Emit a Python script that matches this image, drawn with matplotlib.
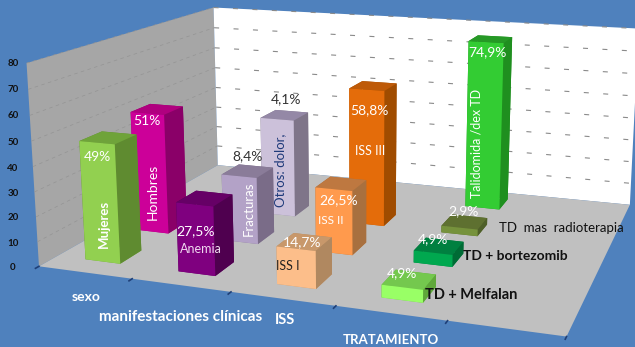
import numpy as np
import matplotlib
matplotlib.use("Agg")
import matplotlib.pyplot as plt
from mpl_toolkits.mplot3d.art3d import Poly3DCollection

W, H = 635, 347
# ---- data
groups = ["sexo", "manifestaciones clínicas", "ISS", "TRATAMIENTO"]
names = ["Mujeres", "Hombres", "Anemia", "Fracturas", "Otros: dolor,", "ISS I", "ISS II", "ISS III",
         "TD + Melfalan", "TD + bortezomib", "TD  mas  radioterapia", "Talidomida /dex TD"]
values = [48, 51, 27.5, 28, 43, 14.7, 26.5, 58.8, 4.9, 4.9, 2.9, 74.9]
labels = ["49%", "51%", "27,5%", "8,4%", "4,1%", "14,7%", "26,5%", "58,8%", "4,9%", "4,9%", "2,9%", "74,9%"]
group_idx = [0, 0, 1, 1, 1, 2, 2, 2, 3, 3, 3, 3]
row_idx = [0, 1, 0, 1, 2, 0, 1, 2, 0, 1, 2, 3]
z_ticks = [0, 10, 20, 30, 40, 50, 60, 70, 80]

front = ["#92D050", "#CC0099", "#7F007F", "#B3A2C7", "#CCC1DA", "#FCBE8A", "#FF9A4D", "#E46C0A",
         "#99FF66", "#00A84F", "#76923C", "#33CC33"]
top = ["#6FA33A", "#B0007F", "#660066", "#8A7C99", "#9488A6", "#C8986B", "#BE7840", "#BE5A08",
       "#74C84E", "#008040", "#5E7030", "#269926"]
side = ["#5F8B30", "#8A0068", "#4F004F", "#7A6C88", "#7F7589", "#B08860", "#A8703F", "#A04C00",
        "#5FA83A", "#006B35", "#4E5F28", "#1F8F1F"]

BG = "#4F81BD"
# ---- camera fitted to the frame of the chart
nx, ny, nz = 5, 4, 80
world = [(0, 0, 0), (nx, 0, 0), (0, ny, 0), (nx, ny, 0), (0, 0, nz), (0, ny, nz), (nx, ny, nz)]
image = [(39, 267), (566, 337), (218, 165), (630, 204), (27, 62), (213, 8), (639, 29)]
A = []
for (x, y, z), (u, v) in zip(world, image):
    A.append([x, y, z, 1, 0, 0, 0, 0, -u*x, -u*y, -u*z, -u])
    A.append([0, 0, 0, 0, x, y, z, 1, -v*x, -v*y, -v*z, -v])
P = np.linalg.svd(np.array(A, float))[2][-1].reshape(3, 4)
if P[2, 3] < 0:
    P = -P
s = P[2, 3]
M = np.array([P[0], P[1], P[2] - np.array([0, 0, 0, s]), P[2]])

fig = plt.figure(figsize=(W/100, H/100), dpi=100, facecolor=BG)
ax = fig.add_axes([0, 0, 1, 1], projection="3d", computed_zorder=False, facecolor=BG, proj_type="ortho")
ax.set_axis_off()
ax.apply_aspect = lambda position=None: None
ax.get_proj = lambda: M
ax.viewLim.intervalx = (0, W)
ax.viewLim.intervaly = (H, 0)

def add_poly(v, color, z):
    p = Poly3DCollection([v], facecolors=color, edgecolors="none", zorder=z)
    ax.add_collection3d(p, autolim=False)

add_poly([(0, 0, 0), (nx, 0, 0), (nx, ny, 0), (0, ny, 0)], "#C0C0C0", 1)
add_poly([(0, 0, 0), (0, ny, 0), (0, ny, nz), (0, 0, nz)], "#A6A6A6", 0)
add_poly([(0, ny, 0), (nx, ny, 0), (nx, ny, nz), (0, ny, nz)], "#FFFFFF", 0)

for t in z_ticks[1:]:
    ax.plot([0, 0], [0, ny], [t, t], color="#949494", lw=0.5, ls=(0, (5, 5)), zorder=0.5)
    ax.plot([0, nx], [ny, ny], [t, t], color="#8A8A8A", lw=0.8, ls=(0, (4.5, 13)), zorder=0.5)
for i in range(nx + 1):
    ax.plot([i, i], [0, -0.06], [0, 0], color="#1F3F77", lw=1.2, zorder=1.2)

GAP_X, WID_X, GAP_Y, WID_Y = 0.31, 0.38, 0.33, 0.42
order = sorted(range(len(values)), key=lambda k: (-row_idx[k], group_idx[k]))
for n, k in enumerate(order):
    cols = [top[k], top[k], front[k], side[k], side[k], side[k]]
    b = ax.bar3d(group_idx[k] + GAP_X, row_idx[k] + GAP_Y, 0, WID_X, WID_Y, values[k],
                 color=cols, shade=False, zorder=2 + n * 0.01)

def txt(u, v, s, **kw):
    kw.setdefault("ha", "center")
    kw.setdefault("va", "center")
    kw.setdefault("family", "Lato")
    fig.text(u / W, 1 - v / H, s, **kw)

for t, v in zip(z_ticks, [267, 243, 218, 194, 168, 142, 116, 90, 64]):
    txt(13, v, str(t), fontsize=7, fontweight="bold", color="#111111")

value_pos = [(97, 157), (147, 121), (196, 231), (248, 156), (286, 99), (302, 242), (339, 200), (369, 110),
             (402, 273), (433, 239), (463, 211), (487, 52)]
value_col = ["w", "w", "w", "#333333", "#333333", "w", "w", "w", "w", "w", "w", "w"]
for p, s_, c in zip(value_pos, labels, value_col):
    txt(p[0], p[1], s_, fontsize=10, color=c)

txt(104, 224, names[0], rotation=90, fontsize=9.5, fontweight="bold", color="w")
txt(153, 192, names[1], rotation=90, fontsize=10, color="w")
txt(201, 249, names[2], fontsize=9, color="#F0D8F0")
txt(249, 209, names[3], rotation=90, fontsize=9.5, color="w")
txt(280, 170, names[4], rotation=90, fontsize=9.5, color="#1F3A7A")
txt(288, 266, names[5], fontsize=9, color="#222222")
txt(331, 220, names[6], fontsize=8.5, color="w")
txt(370, 151, names[7], fontsize=9, color="w")
txt(476, 143, names[11], rotation=90, fontsize=9, color="w")
txt(499, 228, names[10], ha="left", fontsize=9.5, color="#111111")
txt(463, 256, names[9], ha="left", fontsize=10, fontweight="bold", color="#111111")
txt(425, 295, names[8], ha="left", fontsize=10.5, fontweight="bold", color="#111111")

for p, g, fs in zip([(86, 297), (181, 317), (285, 320), (391, 340)], groups, [10, 11, 10.5, 9.5]):
    txt(p[0], p[1], g, fontsize=fs, fontweight="bold", color="w")

fig.savefig("out.png", dpi=100, facecolor=BG)
